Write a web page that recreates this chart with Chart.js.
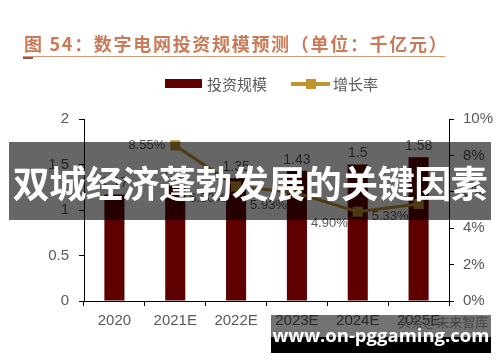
<!DOCTYPE html>
<html>
<head>
<meta charset="utf-8">
<script src="https://cdn.jsdelivr.net/npm/chart.js@4/dist/chart.umd.min.js"></script>
<style>
  body { margin: 0; background: #fff; }
  #wrap { position: relative; width: 500px; height: 362px; overflow: hidden; font-family: "Noto Sans CJK SC", sans-serif; }
  #chart { position: absolute; left: 0; top: 0; }
  .title { position: absolute; left: 24px; top: 30px; font-size: 18px; font-weight: bold; color: #c97a58; letter-spacing: 1.7px; white-space: nowrap; }
  .rule { position: absolute; left: 23px; top: 56px; width: 422px; height: 1px; background: #d49a7c; }
  .rule-mark { position: absolute; left: 23px; top: 57px; width: 10px; height: 2px; background: #8a5a48; }
  .legend { position: absolute; top: 73px; font-size: 15px; color: #5a5a5a; white-space: nowrap; }
  .sw-bar { position: absolute; left: 165px; top: 79px; width: 37px; height: 9px; background: #5e0000; }
  .sw-line { position: absolute; left: 291px; top: 82px; width: 39px; height: 4px; background: #c09530; }
  .sw-mark { position: absolute; left: 306px; top: 79px; width: 10px; height: 10px; background: #c09530; }
  .banner { position: absolute; left: 9px; top: 142px; width: 482px; height: 78px; background: rgba(0,0,0,0.6); }
  .banner span { position: absolute; left: 0; top: 13px; width: 482px; text-align: center; color: #fff; font-size: 37px; font-weight: bold; white-space: nowrap; letter-spacing: -0.5px; }
  .src { position: absolute; left: 398px; top: 312px; font-size: 13px; color: #999; white-space: nowrap; }
  .wm1 { position: absolute; left: 271px; top: 315px; width: 220px; height: 22px; background: rgba(0,0,0,0.55); }
  .wm2 { position: absolute; left: 271px; top: 337px; width: 220px; height: 16px; background: #000; }
  .wm-text { position: absolute; left: 271px; top: 322px; width: 220px; text-align: center; color: #fff; font-family: "Open Sans", sans-serif; font-weight: bold; font-size: 18.5px; line-height: 26px; white-space: nowrap; }
</style>
</head>
<body>
<div id="wrap">
  <canvas id="chart" width="500" height="362"></canvas>
  <div class="title">图 54：数字电网投资规模预测（单位：千亿元）</div>
  <div class="rule"></div>
  <div class="rule-mark"></div>
  <div class="sw-bar"></div>
  <div class="legend" style="left:207px">投资规模</div>
  <div class="sw-line"></div>
  <div class="sw-mark"></div>
  <div class="legend" style="left:333px">增长率</div>
  <div class="src">头条@未来智库</div>
  <div class="banner"><span>双城经济蓬勃发展的关键因素</span></div>
  <div class="wm1"></div>
  <div class="wm2"></div>
  <div class="wm-text">www.on-pggaming.com</div>
</div>
<script>
const years = ['2020', '2021E', '2022E', '2023E', '2024E', '2025E'];
const investment = [1.17, 1.27, 1.35, 1.43, 1.5, 1.58];
const growth = [null, 8.55, 6.30, 5.93, 4.90, 5.33];
const leftTicks = [0, 0.5, 1, 1.5, 2];
const rightTicks = [0, 2, 4, 6, 8, 10];

const tickColor = '#595959';
const axisFont = { family: 'Liberation Sans, Arial, sans-serif', size: 15 };

// value labels over bars and beside the line points
const valueLabels = {
  id: 'valueLabels',
  afterDatasetsDraw(chart) {
    const ctx = chart.ctx;
    ctx.save();
    ctx.fillStyle = tickColor;
    ctx.font = '14px Liberation Sans, Arial, sans-serif';
    ctx.textAlign = 'center';
    ctx.textBaseline = 'bottom';
    chart.getDatasetMeta(1).data.forEach((bar, i) => {
      ctx.fillText(String(investment[i]), bar.x, bar.y - 4);
    });
    ctx.font = '13px Liberation Sans, Arial, sans-serif';
    ctx.textAlign = 'right';
    ctx.textBaseline = 'middle';
    chart.getDatasetMeta(0).data.forEach((pt, i) => {
      if (growth[i] == null) return;
      const dy = i === 1 ? 0 : 12;
      ctx.fillText(growth[i].toFixed(2) + '%', pt.x - 10, pt.y + dy);
    });
    ctx.restore();
  },
};

new Chart(document.getElementById('chart'), {
  type: 'bar',
  data: {
    labels: years,
    datasets: [
      {
        type: 'line',
        label: '增长率',
        data: growth,
        yAxisID: 'y1',
        borderColor: '#c09530',
        backgroundColor: '#c09530',
        borderWidth: 3,
        pointStyle: 'rect',
        pointRadius: 5,
        pointHoverRadius: 5,
        tension: 0,
        order: 0,
      },
      {
        label: '投资规模',
        data: investment,
        yAxisID: 'y',
        backgroundColor: '#5e0000',
        barPercentage: 0.33,
        categoryPercentage: 1,
        order: 1,
      },
    ],
  },
  options: {
    responsive: false,
    animation: false,
    events: [],
    layout: { padding: { top: 119, left: 0, right: 0, bottom: 0 } },
    plugins: {
      legend: { display: false },
      title: { display: false },
      tooltip: { enabled: false },
    },
    scales: {
      x: {
        offset: true,
        grid: { drawOnChartArea: false, offset: true, tickLength: 5, color: '#000' },
        border: { color: '#000', width: 1 },
        ticks: { color: tickColor, font: axisFont, padding: 6, maxRotation: 0 },
        afterFit: (s) => { s.height = 61; },
      },
      y: {
        position: 'left',
        min: 0,
        max: 2,
        afterBuildTicks: (s) => { s.ticks = leftTicks.map((v) => ({ value: v })); },
        grid: { drawOnChartArea: false, tickLength: 5, color: '#000' },
        border: { color: '#000', width: 1 },
        ticks: { color: tickColor, font: axisFont, padding: 10, callback: (v) => String(v) },
        afterFit: (s) => { s.width = 84; },
      },
      y1: {
        position: 'right',
        min: 0,
        max: 10,
        afterBuildTicks: (s) => { s.ticks = rightTicks.map((v) => ({ value: v })); },
        grid: { drawOnChartArea: false, tickLength: 5, color: '#000' },
        border: { color: '#000', width: 1 },
        ticks: { color: tickColor, font: axisFont, padding: 9, callback: (v) => v + '%' },
        afterFit: (s) => { s.width = 51; },
      },
    },
  },
  plugins: [valueLabels],
});
</script>
</body>
</html>
